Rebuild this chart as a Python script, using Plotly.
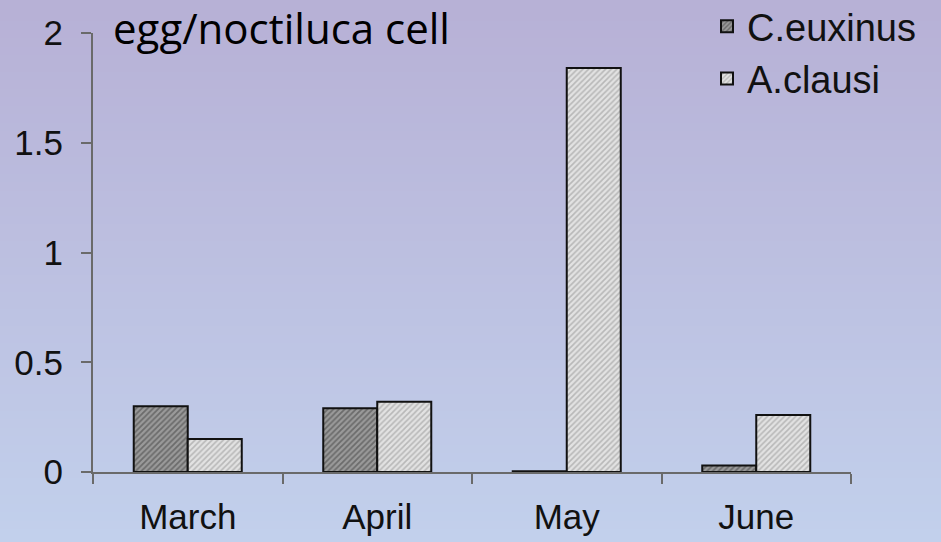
import zlib, struct, base64
import plotly.graph_objects as go

# ---- data ----
months = ["March", "April", "May", "June"]
c_euxinus = [0.30, 0.29, 0.003, 0.03]
a_clausi = [0.15, 0.32, 1.84, 0.26]
series_names = ["C.euxinus", "A.clausi"]
y_tickvals = [0, 0.5, 1, 1.5, 2]
y_ticktext = ["0", "0.5", "1", "1.5", "2"]
title_text = "egg/noctiluca cell"

W, H = 941, 542
L, R, T, B = 93, 90, 33, 70
pw, ph = W - L - R, H - T - B

# ---- vertical gradient background as a tiny PNG ----
top_c = (183, 177, 214)
bot_c = (194, 208, 236)
N = 64
rows = []
for i in range(N):
    f = i / (N - 1)
    c = tuple(round(top_c[k] + (bot_c[k] - top_c[k]) * f) for k in range(3))
    rows.append(b"\x00" + bytes(c))
raw = b"".join(rows)

def chunk(tag, data):
    return struct.pack(">I", len(data)) + tag + data + struct.pack(">I", zlib.crc32(tag + data) & 0xffffffff)

png = b"\x89PNG\r\n\x1a\n" + chunk(b"IHDR", struct.pack(">IIBBBBB", 1, N, 8, 2, 0, 0, 0)) \
    + chunk(b"IDAT", zlib.compress(raw)) + chunk(b"IEND", b"")
uri = "data:image/png;base64," + base64.b64encode(png).decode()

fig = go.Figure()
fig.add_trace(go.Bar(
    x=months, y=c_euxinus, name=series_names[0], legendgroup="a",
    marker=dict(color="#8c8c8c", line=dict(color="#111111", width=2),
                pattern=dict(shape="/", size=4, solidity=0.45,
                             fgcolor="#3c3c3c", bgcolor="#9a9a9a")),
))
fig.add_trace(go.Bar(
    x=months, y=a_clausi, name=series_names[1], legendgroup="b",
    marker=dict(color="#dcdcdc", line=dict(color="#111111", width=2),
                pattern=dict(shape="/", size=4, solidity=0.4,
                             fgcolor="#8e8e8e", bgcolor="#e2e2e2")),
))

fig.add_annotation(
    text=title_text, xref="paper", yref="paper",
    x=(111 - L) / pw, y=(H - B - 28) / ph, xanchor="left", yanchor="middle",
    showarrow=False, font=dict(family="Open Sans, Lato, sans-serif", size=42, color="#000000"),
)

fig.update_layout(
    width=W, height=H,
    margin=dict(l=L, r=R, t=T, b=B, pad=0, autoexpand=False),
    paper_bgcolor="rgb(183,177,214)",
    plot_bgcolor="rgba(0,0,0,0)",
    barmode="group", bargap=0.43, bargroupgap=0,
    font=dict(family="Liberation Sans, Arial, sans-serif", color="#111111", size=35),
    legend=dict(x=(707 - L) / pw, y=(H - B + 5) / ph, xanchor="left", yanchor="top",
                bgcolor="rgba(0,0,0,0)", font=dict(size=38), tracegroupgap=0,
                itemwidth=30),
    showlegend=True,
    images=[dict(source=uri, xref="paper", yref="paper",
                 x=-L / pw, y=1 + T / ph, sizex=W / pw, sizey=H / ph,
                 xanchor="left", yanchor="top", sizing="stretch", layer="below")],
)
fig.update_xaxes(
    showline=True, linecolor="#6a6a6a", linewidth=2,
    ticks="outside", tickson="boundaries", ticklen=10, tickwidth=2, tickcolor="#6a6a6a",
    showgrid=False, zeroline=False, ticklabelstandoff=13, automargin=False,
)
fig.update_yaxes(
    range=[0, 2], tickvals=y_tickvals, ticktext=y_ticktext,
    showline=True, linecolor="#6a6a6a", linewidth=2,
    ticks="outside", ticklen=10, tickwidth=2, tickcolor="#6a6a6a",
    showgrid=False, zeroline=False, ticklabelstandoff=11, automargin=False,
)

fig.write_html("out.html", config={"displayModeBar": False},
               post_script="document.body.style.margin='0';document.body.style.overflow='hidden';")
